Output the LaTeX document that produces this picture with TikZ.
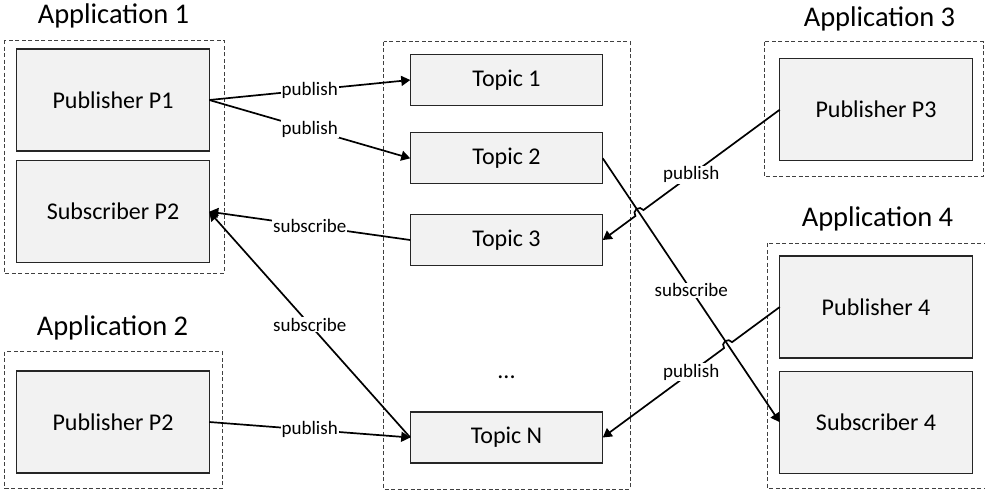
\documentclass[tikz,border=0pt]{standalone}
\usepackage{fontspec}
\setmainfont{Carlito}
\usetikzlibrary{arrows.meta,calc,intersections}
\definecolor{boxfill}{HTML}{F2F2F2}
\definecolor{boxline}{HTML}{262626}
\definecolor{frameline}{HTML}{404040}
\begin{document}
\begin{tikzpicture}[x=1pt,y=1pt,
  block/.style={draw=boxline, line width=1.1pt, fill=boxfill, inner sep=0pt, outer sep=0pt,
                minimum width=192.5pt, font=\fontsize{24}{28}\selectfont},
  bigblock/.style={block, minimum height=102pt},
  topic/.style={block, minimum height=51pt},
  frame/.style={draw=frameline, line width=0.9pt, dash pattern=on 4pt off 2.5pt},
  title/.style={anchor=base, font=\fontsize{28.5}{32}\selectfont, inner sep=0pt},
  link/.style={line width=1.7pt, -{Triangle[length=9pt,width=10pt]}},
  lbl/.style={fill=white, inner sep=1pt, font=\fontsize{19}{22}\selectfont},
]
\useasboundingbox (0,0) rectangle (985,-490);

% application and broker frames
\draw[frame] (4.7,-40) rectangle (224,-273.3);
\draw[frame] (4.7,-351.7) rectangle (222.3,-488.3);
\draw[frame] (383.5,-41.7) rectangle (630,-489);
\draw[frame] (764,-41.7) rectangle (983.3,-176);
\draw[frame] (767.3,-243.3) rectangle (990,-488.3);

% titles
\node[title] (app1) at (113.5,-23.3) {Application 1};
\node[title] (app2) at (112.5,-335.7) {Application 2};
\node[title] (app3) at (879.5,-26.7) {Application 3};
\node[title] (app4) at (877.5,-226.5) {Application 4};

% application blocks
\node[bigblock] (p1)  at (113,-100)   {Publisher P1};
\node[bigblock] (s2)  at (113,-211.7) {Subscriber P2};
\node[bigblock] (pp2) at (113,-422)   {Publisher P2};
\node[bigblock] (p3)  at (876,-109.7) {Publisher P3};
\node[bigblock] (p4)  at (876,-307)   {Publisher 4};
\node[bigblock] (s4)  at (876,-422.2) {Subscriber 4};

% topics
\node[topic] (t1) at (506.5,-80)    {Topic 1};
\node[topic] (t2) at (506.5,-158.3) {Topic 2};
\node[topic] (t3) at (506.5,-240)   {Topic 3};
\node[topic] (tn) at (506.5,-437.5) {Topic N};
\node[anchor=base, inner sep=0pt, font=\fontsize{24}{28}\selectfont] (dots) at (506.5,-378) {...};

% left-hand connectors
\draw[link] (p1.east) -- (t1.west);
\draw[link] (p1.east) -- (t2.west);
\draw[link] (t3.west) -- (s2.east);
\draw[link] (tn.west) -- (s2.east);
\draw[link] (pp2.east) -- (tn.west);

% right-hand connectors, publish lines hop over the subscribe line
\draw[link, name path=sub] (t2.east) -- (s4.west);
\path[name path=pubA] (p3.west) -- (t3.east);
\path[name path=pubB] (p4.west) -- (tn.east);
\path[name intersections={of=sub and pubA, by=jA}];
\path[name intersections={of=sub and pubB, by=jB}];
\draw[link] (p3.west) -- ($(jA)!5pt!(p3.west)$)
  let \p1=($(p3.west)-(jA)$), \n1={atan2(\y1,\x1)} in
  arc[start angle=\n1, delta angle=180, radius=5pt] -- (t3.east);
\draw[link] (p4.west) -- ($(jB)!5pt!(p4.west)$)
  let \p1=($(p4.west)-(jB)$), \n1={atan2(\y1,\x1)} in
  arc[start angle=\n1, delta angle=180, radius=5pt] -- (tn.east);

% connector labels
\node[lbl] at ($(p1.east)!0.5!(t1.west)$) {publish};
\node[lbl] at ($(p1.east)!0.5!(t2.west)$) {publish};
\node[lbl] at ($(t3.west)!0.5!(s2.east)$) {subscribe};
\node[lbl] at ($(tn.west)!0.5!(s2.east)$) {subscribe};
\node[lbl] at ($(pp2.east)!0.5!(tn.west)$) {publish};
\node[lbl] at ($(p3.west)!0.5!(t3.east)$) {publish};
\node[lbl] at ($(t2.east)!0.5!(s4.west)$) {subscribe};
\node[lbl] at ($(p4.west)!0.5!(tn.east)$) {publish};
\end{tikzpicture}
\end{document}
